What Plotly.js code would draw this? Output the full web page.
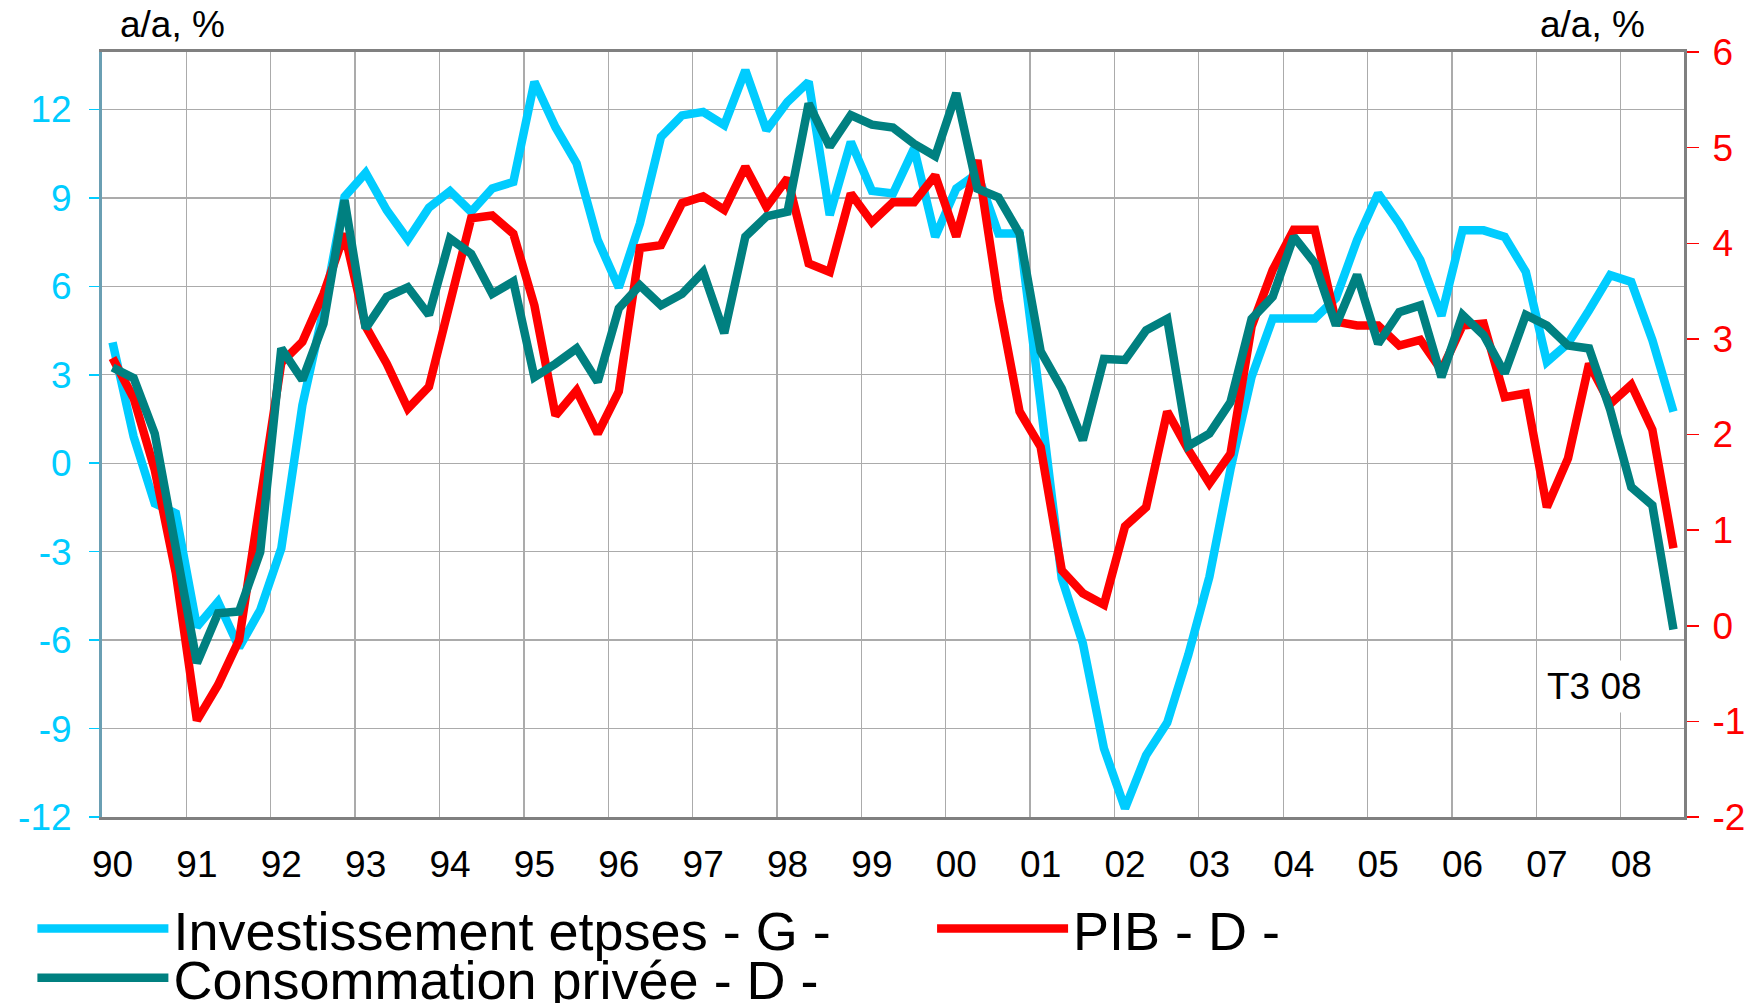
<!DOCTYPE html>
<html>
<head>
<meta charset="utf-8">
<script src="https://cdn.plot.ly/plotly-3.0.1.min.js"></script>
<style>
  html, body { margin: 0; padding: 0; background: #ffffff; }
  #chart { width: 1760px; height: 1003px; }
</style>
</head>
<body>
<div id="chart"></div>
<script>
// ---- data (quarterly, T1 1990 to T3 2008) ----
const years = ['90','91','92','93','94','95','96','97','98','99','00','01','02','03','04','05','06','07','08'];
const quarterNames = ['T1','T2','T3','T4'];

// Investissement des entreprises, a/a % (left axis)
const investissement = [
  4.1, 0.9, -1.36, -1.7,
  -5.55, -4.7, -6.25, -4.98,
  -2.89, 1.97, 5.2, 9.04,
  9.85, 8.58, 7.59, 8.67,
  9.23, 8.53, 9.32, 9.54,
  12.94, 11.4, 10.17, 7.57,
  5.96, 8.13, 11.07, 11.8,
  11.92, 11.47, 13.33, 11.3,
  12.26, 12.94, 8.42, 10.9,
  9.24, 9.15, 10.68, 7.68,
  9.32, 9.83, 7.79, 7.79,
  2.0, -3.9, -6.11, -9.67,
  -11.71, -9.9, -8.8, -6.5,
  -3.85, -0.2, 2.93, 4.91,
  4.91, 4.91, 5.6, 7.57,
  9.15, 8.13, 6.89, 5.0,
  7.9, 7.9, 7.68, 6.49,
  3.44, 4.06, 5.19, 6.38,
  6.15, 4.18, 1.75
];

// PIB, a/a % (right axis)
const pib = [
  2.80, 2.38, 1.63, 0.55,
  -0.99, -0.62, -0.15, 1.3,
  2.75, 2.97, 3.47, 4.10,
  3.13, 2.74, 2.27, 2.50,
  3.41, 4.26, 4.29, 4.10,
  3.35, 2.20, 2.46, 2.01,
  2.45, 3.95, 3.98, 4.42,
  4.49, 4.35, 4.80, 4.38,
  4.68, 3.79, 3.70, 4.52,
  4.22, 4.43, 4.43, 4.71,
  4.07, 4.87, 3.41, 2.24,
  1.87, 0.58, 0.34, 0.22,
  1.04, 1.24, 2.24, 1.84,
  1.49, 1.80, 3.13, 3.72,
  4.14, 4.14, 3.18, 3.14,
  3.14, 2.93, 2.99, 2.67,
  3.14, 3.16, 2.39, 2.43,
  1.24, 1.75, 2.74, 2.32,
  2.52, 2.05, 0.81
];

// Consommation privée, a/a % (right axis)
const consommation = [
  2.70, 2.59, 2.01, 0.83,
  -0.39, 0.13, 0.15, 0.77,
  2.90, 2.57, 3.16, 4.45,
  3.11, 3.44, 3.54, 3.25,
  4.05, 3.89, 3.47, 3.60,
  2.60, 2.74, 2.90, 2.55,
  3.32, 3.56, 3.35, 3.47,
  3.70, 3.06, 4.07, 4.28,
  4.33, 5.46, 5.01, 5.34,
  5.24, 5.21, 5.04, 4.91,
  5.57, 4.57, 4.48, 4.10,
  2.87, 2.48, 1.94, 2.79,
  2.78, 3.09, 3.21, 1.88,
  2.01, 2.34, 3.21, 3.44,
  4.07, 3.79, 3.14, 3.67,
  2.95, 3.28, 3.35, 2.60,
  3.25, 3.04, 2.64, 3.25,
  3.14, 2.93, 2.90, 2.26,
  1.45, 1.26, -0.04
];

const leftTicks = [-12, -9, -6, -3, 0, 3, 6, 9, 12];
const rightTicks = [-2, -1, 0, 1, 2, 3, 4, 5, 6];

const seriesNames = ['Investissement etpses - G -', 'PIB - D -', 'Consommation privée - D -'];
const lastLabel = 'T3 08';
const leftTitle = 'a/a, %';
const rightTitle = 'a/a, %';

// ---- derived ----
const quarters = [];
years.forEach(y => quarterNames.forEach(q => quarters.push(q + ' ' + y)));
quarters.length = investissement.length;
const xs = quarters.map((q, i) => i);
const yearTickVals = years.map((y, k) => k * 4);

const FONT = 'Liberation Sans, Arial, Helvetica, sans-serif';
const CYAN = '#00CCFF', RED = '#FF0000', TEAL = '#008080';
const LW = 8.5;

const traces = [
  { x: xs, y: investissement, text: quarters, name: seriesNames[0], type: 'scatter', mode: 'lines',
    line: { color: CYAN, width: LW }, yaxis: 'y', legend: 'legend' },
  { x: xs, y: pib, text: quarters, name: seriesNames[1], type: 'scatter', mode: 'lines',
    line: { color: RED, width: LW }, yaxis: 'y2', legend: 'legend2' },
  { x: xs, y: consommation, text: quarters, name: seriesNames[2], type: 'scatter', mode: 'lines',
    line: { color: TEAL, width: LW }, yaxis: 'y2', legend: 'legend3' }
];

const legendBase = {
  orientation: 'h', xanchor: 'left', yanchor: 'middle',
  font: { family: FONT, size: 54, color: '#000000' },
  bgcolor: 'rgba(0,0,0,0)', borderwidth: 0, itemwidth: 131, itemclick: false, itemdoubleclick: false
};

const layout = {
  width: 1760, height: 1003,
  paper_bgcolor: '#ffffff', plot_bgcolor: '#ffffff',
  font: { family: FONT, color: '#000000' },
  margin: { l: 102, r: 76, t: 52, b: 186, autoexpand: false },
  showlegend: true,
  legend: Object.assign({}, legendBase, { x: -0.044, y: -0.1464 }),
  legend2: Object.assign({}, legendBase, { x: 0.5247, y: -0.1464 }),
  legend3: Object.assign({}, legendBase, { x: -0.044, y: -0.2105 }),
  xaxis: {
    type: 'linear', range: [-0.5, xs.length - 0.5], fixedrange: true,
    tickmode: 'array', tickvals: yearTickVals, ticktext: years,
    ticks: '', showgrid: false, zeroline: false,
    tickfont: { family: FONT, size: 37, color: '#000000' },
    ticklabelstandoff: 13,
    showline: true, linecolor: '#808080', linewidth: 3, mirror: true,
    minor: { tickmode: 'linear', tick0: 3.5, dtick: 4, showgrid: true, gridcolor: '#ababab', gridwidth: 1.3, ticks: '' }
  },
  yaxis: {
    range: [-12, 13.95], tickmode: 'array', tickvals: leftTicks, ticktext: leftTicks.map(String), fixedrange: true,
    showgrid: true, gridcolor: '#ababab', gridwidth: 1.3, zeroline: false,
    ticks: 'outside', ticklen: 10, tickwidth: 1.5, tickcolor: CYAN,
    tickfont: { family: FONT, size: 37, color: CYAN },
    ticklabelstandoff: 10,
    showline: true, linecolor: '#6a9fb3', linewidth: 3
  },
  yaxis2: {
    overlaying: 'y', side: 'right', range: [-2, 6], tickmode: 'array', tickvals: rightTicks, ticktext: rightTicks.map(String), fixedrange: true,
    showgrid: false, zeroline: false,
    ticks: 'outside', ticklen: 12, tickwidth: 1.5, tickcolor: RED,
    tickfont: { family: FONT, size: 37, color: RED },
    ticklabelstandoff: 6,
    showline: true, linecolor: '#808080', linewidth: 3
  },
  annotations: [
    { text: leftTitle, xref: 'paper', yref: 'paper', x: 0.0101, y: 1.0353, xanchor: 'left', yanchor: 'middle',
      showarrow: false, font: { family: FONT, size: 37, color: '#000000' } },
    { text: rightTitle, xref: 'paper', yref: 'paper', x: 0.9766, y: 1.0353, xanchor: 'right', yanchor: 'middle',
      showarrow: false, font: { family: FONT, size: 37, color: '#000000' } },
    { text: lastLabel, xref: 'paper', yref: 'paper', x: 0.9437, y: 0.170, xanchor: 'center', yanchor: 'middle',
      showarrow: false, bgcolor: '#ffffff', borderpad: 5, font: { family: FONT, size: 37, color: '#000000' } }
  ]
};

Plotly.newPlot('chart', traces, layout, { displayModeBar: false, staticPlot: true });
</script>
</body>
</html>
